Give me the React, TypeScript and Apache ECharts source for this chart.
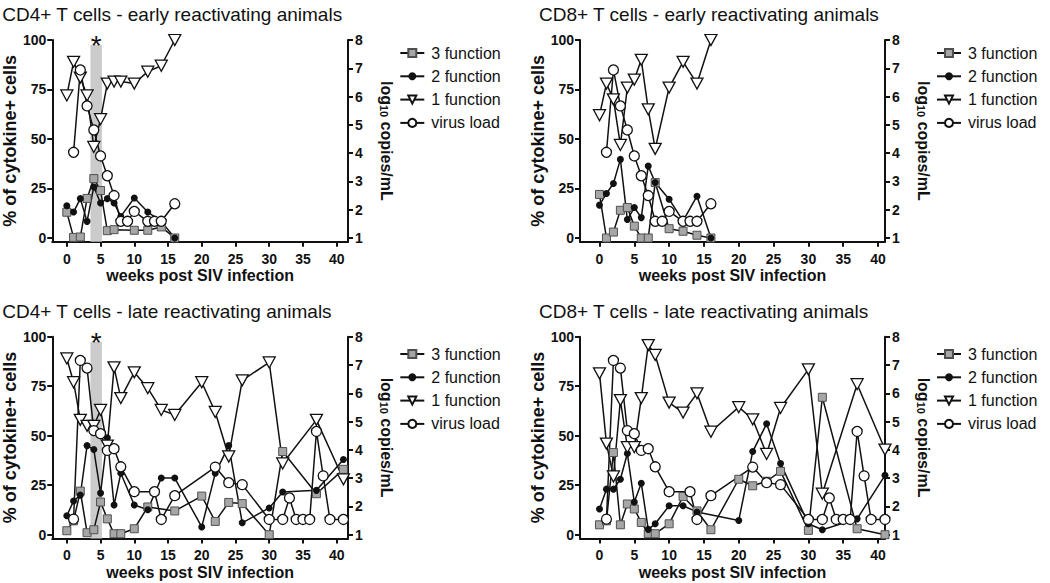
import React, { useEffect, useRef } from "react";
import * as echarts from "echarts";

const FONT = "'Liberation Sans', Arial, Helvetica, sans-serif";

// tick labels
const weekTicks = [0, 5, 10, 15, 20, 25, 30, 35, 40];
const pctTicks = [0, 25, 50, 75, 100];
const logTicks = [1, 2, 3, 4, 5, 6, 7, 8];
const legendNames = ["3 function", "2 function", "1 function", "virus load"];
const panelTitles = [
  "CD4+ T cells - early reactivating animals",
  "CD8+ T cells - early reactivating animals",
  "CD4+ T cells - late reactivating animals",
  "CD8+ T cells - late reactivating animals",
];

// [week, % of cytokine+ cells]
const cd4Early3 = [[0, 13], [1, 0.3], [2, 0.5], [3, 20], [4, 30], [5, 24], [6, 3.7], [7, 4.2], [10, 3.9], [12, 3.9], [14, 5.6], [16, 0]];
const cd4Early2 = [[0, 16.3], [1, 13.1], [2, 19.9], [3, 8.4], [4, 25.8], [5, 17.7], [6, 19.9], [7, 17.7], [8, 10.9], [10, 20.2], [12, 13.1], [14, 8.4], [16, 0]];
const cd4Early1 = [[0, 72], [1, 89], [2, 81], [3, 72], [4, 46], [5, 60], [6, 78], [7, 79], [8, 79], [10, 78], [12, 84], [14, 87], [16, 100]];

const cd8Early3 = [[0, 22], [1, 0], [2, 3], [3, 14], [4, 15.4], [5, 6], [6, 0], [7, 0], [8, 28], [10, 4.7], [12, 3.4], [14, 1.4], [16, 0]];
const cd8Early2 = [[0, 16.6], [1, 22.5], [2, 27.5], [3, 39.7], [4, 9.3], [5, 15.4], [6, 10.3], [7, 36.3], [8, 28], [10, 19.6], [12, 8.6], [14, 21.1], [16, 0]];
const cd8Early1 = [[0, 62], [1, 78], [2, 70], [3, 47], [4, 76], [5, 80], [6, 90], [7, 65], [8, 45], [10, 76], [12, 89], [14, 78], [16, 100]];

const cd4Late3 = [[0, 2], [1, 7], [2, 22], [3, 1], [4, 2.5], [5, 16.5], [6, 8], [7, 0.5], [8, 0.5], [10, 3], [12, 14], [16, 12], [20, 19.5], [22, 6.7], [24, 16.3], [26, 15.7], [30, 0], [32, 42], [37, 20.7], [41, 33]];
const cd4Late2 = [[0, 9.6], [1, 17], [2, 20], [3, 45], [4, 43], [5, 21], [6, 49], [7, 15], [8, 31], [10, 15], [12, 12.6], [14, 28.6], [16, 28.6], [20, 3.9], [22, 31], [24, 45], [26, 6], [30, 13.5], [32, 21.6], [37, 22.4], [41, 38]];
const cd4Late1 = [[0, 89], [1, 77], [2, 58], [3, 55], [4, 55], [5, 63], [6, 45], [7, 84.5], [8, 69], [10, 82], [12, 74], [14, 63], [16, 60.5], [20, 77], [22, 62], [24, 39.5], [26, 78], [30, 87], [32, 36], [37, 58], [41, 28]];

const cd8Late3 = [[0, 5], [1, 7], [2, 41.5], [3, 5], [4, 15.5], [5, 13], [6, 6.2], [7, 0.5], [8, 0.5], [10, 5.5], [12, 19.3], [14, 12], [16, 2.5], [20, 28], [22, 24.7], [24, 27], [26, 32], [30, 2.2], [32, 69.4], [37, 3], [41, 0]];
const cd8Late2 = [[0, 13], [1, 23], [2, 23], [3, 28], [4, 41], [5, 16.5], [6, 26], [7, 2.7], [8, 5.5], [10, 14.6], [12, 14.6], [14, 11.5], [20, 7.2], [22, 42], [24, 56], [26, 36], [30, 5.5], [32, 2.5], [37, 8], [41, 30]];
const cd8Late1 = [[0, 81.5], [1, 46], [2, 29.4], [3, 68], [4, 44.2], [5, 44.2], [6, 69], [7, 95.8], [8, 90.8], [10, 66.7], [12, 61.7], [14, 71.4], [16, 52], [20, 64.4], [22, 58.3], [24, 40.8], [26, 64], [30, 83.5], [32, 20.7], [37, 76], [41, 43]];

// [week, log10 copies/mL]
const vlEarly = [[1, 4.03], [2, 6.94], [3, 5.67], [4, 4.82], [5, 3.9], [6, 3.2], [7, 2.5], [8, 1.59], [9, 1.59], [10, 1.94], [12, 1.59], [13, 1.59], [14, 1.59], [16, 2.21]];
const vlLate = [[1, 1.55], [2, 7.16], [3, 6.89], [4, 4.68], [5, 4.57], [6, 3.98], [7, 4.04], [8, 3.4], [10, 2.52], [13, 2.52], [14, 1.54], [16, 2.38], [22, 3.39], [24, 2.84], [26, 2.77], [30, 1.54], [32, 1.54], [33, 2.3], [34, 1.54], [35, 1.54], [36, 1.54], [37, 4.65], [38, 3.08], [39, 1.54], [41, 1.54]];

// shaded period (weeks) for CD4 panels
const bandWeeks = [3.5, 5.2];

const panels = [
  { left: 43.3, top: 40, width: 304.7, xmin: -2.16, xmax: 41.68, legendTop: 39, s3: cd4Early3, s2: cd4Early2, s1: cd4Early1, vl: vlEarly, band: true },
  { left: 580, top: 40, width: 305, xmin: -2.8, xmax: 41.0, legendTop: 39, s3: cd8Early3, s2: cd8Early2, s1: cd8Early1, vl: vlEarly, band: false },
  { left: 43.3, top: 336.7, width: 304.7, xmin: -2.16, xmax: 41.68, legendTop: 340, s3: cd4Late3, s2: cd4Late2, s1: cd4Late1, vl: vlLate, band: true },
  { left: 580, top: 336.7, width: 305, xmin: -2.8, xmax: 41.0, legendTop: 340, s3: cd8Late3, s2: cd8Late2, s1: cd8Late1, vl: vlLate, band: false },
];

const PH = 201.7;
const YMIN = -1.87;
const LMIN = 0.869;
const INK = "#111";

function axisCommon() {
  return {
    axisLine: { show: true, onZero: false, lineStyle: { color: INK, width: 2 } },
    splitLine: { show: false },
  };
}

export default function App() {
  const ref = useRef<HTMLDivElement>(null);
  useEffect(() => {
    document.body.style.margin = "0";
    if (!ref.current) return;
    const chart = echarts.init(ref.current, undefined, { renderer: "svg" });

    const grid: any[] = [];
    const xAxis: any[] = [];
    const yAxis: any[] = [];
    const series: any[] = [];
    const title: any[] = [];
    const legend: any[] = [];

    panels.forEach((p, i) => {
      grid.push({ left: p.left, top: p.top, width: p.width, height: PH, containLabel: false });
      title.push({
        text: panelTitles[i],
        left: p.left - 41,
        top: p.top - 35,
        padding: 0,
        textStyle: { fontFamily: FONT, fontSize: 19, fontWeight: "normal", color: INK },
      });
      legend.push({
        orient: "vertical",
        left: p.left + 351,
        top: p.legendTop,
        itemWidth: 24,
        itemHeight: 10,
        itemGap: 5.3,
        selectedMode: false,
        data: legendNames,
        textStyle: { fontFamily: FONT, fontSize: 16, color: INK, lineHeight: 18, padding: [0, 0, 0, 2] },
      });
      xAxis.push({
        type: "value",
        gridIndex: i,
        min: p.xmin,
        max: p.xmax,
        ...axisCommon(),
        axisTick: { show: true, length: 5, lineStyle: { color: INK, width: 2 }, customValues: weekTicks },
        axisLabel: { customValues: weekTicks, margin: 10, fontSize: 14, fontWeight: "bold", color: INK, fontFamily: FONT },
        name: "weeks post SIV infection",
        nameLocation: "middle",
        nameGap: 26,
        nameTextStyle: { fontFamily: FONT, fontSize: 16, fontWeight: "bold", color: INK },
      });
      yAxis.push({
        type: "value",
        gridIndex: i,
        position: "left",
        min: YMIN,
        max: 100,
        ...axisCommon(),
        axisTick: { show: true, length: 5, lineStyle: { color: INK, width: 2 }, customValues: pctTicks },
        axisLabel: { customValues: pctTicks, margin: 6, fontSize: 14, fontWeight: "bold", color: INK, fontFamily: FONT },
        name: "% of cytokine+ cells",
        nameLocation: "middle",
        nameGap: 21,
        nameTextStyle: { fontFamily: FONT, fontSize: 18, fontWeight: "bold", color: INK },
      });
      yAxis.push({
        type: "value",
        gridIndex: i,
        position: "right",
        min: LMIN,
        max: 8,
        ...axisCommon(),
        axisTick: { show: true, length: 5, lineStyle: { color: INK, width: 2 }, customValues: logTicks },
        axisLabel: { customValues: logTicks, margin: 7, fontSize: 14, fontWeight: "bold", color: INK, fontFamily: FONT },
        name: "log{s|10} copies/mL",
        nameLocation: "middle",
        nameRotate: -90,
        nameGap: 30,
        nameTextStyle: {
          fontFamily: FONT,
          fontSize: 16,
          fontWeight: "bold",
          color: INK,
          rich: { s: { fontFamily: FONT, fontSize: 11, fontWeight: "bold", color: INK, verticalAlign: "bottom", padding: [6, 0, 0, 0] } },
        },
      });

      const base = { type: "line", xAxisIndex: i, showSymbol: true, showAllSymbol: true, lineStyle: { color: INK, width: 1.5 }, z: 2 };
      const s3: any = {
        ...base,
        name: "3 function",
        yAxisIndex: 2 * i,
        data: p.s3,
        symbol: "rect",
        symbolSize: 8,
        itemStyle: { color: "#a6a6a6", borderColor: "#505050", borderWidth: 1 },
      };
      if (p.band) {
        s3.markArea = {
          silent: true,
          itemStyle: { color: "#cbcbcb" },
          label: { show: true, position: "top", formatter: "*", fontSize: 28, color: INK, fontFamily: FONT, distance: -15 },
          data: [[{ xAxis: bandWeeks[0], yAxis: YMIN }, { xAxis: bandWeeks[1], yAxis: 97.5 }]],
        };
      }
      series.push(s3);
      series.push({
        ...base,
        name: "2 function",
        yAxisIndex: 2 * i,
        data: p.s2,
        symbol: "circle",
        symbolSize: 7,
        itemStyle: { color: INK },
      });
      series.push({
        ...base,
        name: "1 function",
        yAxisIndex: 2 * i,
        data: p.s1,
        symbol: "triangle",
        symbolRotate: 180,
        symbolSize: [12, 11],
        itemStyle: { color: "#ffffff", borderColor: INK, borderWidth: 1.3 },
      });
      series.push({
        ...base,
        name: "virus load",
        yAxisIndex: 2 * i + 1,
        data: p.vl,
        symbol: "circle",
        symbolSize: 10,
        itemStyle: { color: "#ffffff", borderColor: INK, borderWidth: 1.3 },
      });
    });

    chart.setOption({
      animation: false,
      backgroundColor: "#ffffff",
      textStyle: { fontFamily: FONT },
      title,
      legend,
      grid,
      xAxis,
      yAxis,
      series,
    });
    return () => chart.dispose();
  }, []);
  return <div ref={ref} style={{ width: 1050, height: 583 }} />;
}
